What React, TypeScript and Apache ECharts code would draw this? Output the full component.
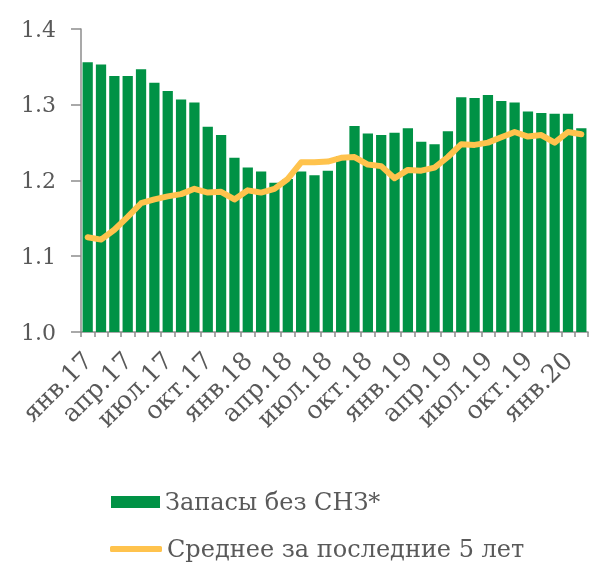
import React, { useEffect, useRef } from "react";
import * as echarts from "echarts";

const categories = [
  "янв.17","фев.17","мар.17","апр.17","май.17","июн.17","июл.17","авг.17","сен.17","окт.17","ноя.17","дек.17",
  "янв.18","фев.18","мар.18","апр.18","май.18","июн.18","июл.18","авг.18","сен.18","окт.18","ноя.18","дек.18",
  "янв.19","фев.19","мар.19","апр.19","май.19","июн.19","июл.19","авг.19","сен.19","окт.19","ноя.19","дек.19",
  "янв.20","фев.20",
];

const stocks = [
  1.356, 1.353, 1.338, 1.338, 1.347, 1.329, 1.318, 1.307, 1.303, 1.271, 1.260, 1.230,
  1.217, 1.212, 1.197, 1.202, 1.212, 1.207, 1.213, 1.232, 1.272, 1.262, 1.260, 1.263,
  1.269, 1.251, 1.248, 1.265, 1.310, 1.309, 1.313, 1.305, 1.303, 1.291, 1.289, 1.288,
  1.288, 1.269,
];

const avg5y = [
  1.125, 1.122, 1.135, 1.152, 1.170, 1.175, 1.179, 1.182, 1.189, 1.184, 1.185, 1.175,
  1.187, 1.184, 1.189, 1.202, 1.224, 1.224, 1.225, 1.230, 1.231, 1.221, 1.219, 1.203,
  1.214, 1.213, 1.217, 1.231, 1.248, 1.247, 1.250, 1.257, 1.264, 1.258, 1.260, 1.250,
  1.264, 1.261,
];

const seriesNames = ["Запасы без СНЗ*", "Среднее за последние 5 лет"];

const FONT = "DejaVu Serif";
const TEXT = "#595959";
const AXIS = "#8c8c8c";
const GREEN = "#009245";
const YELLOW = "#FFC34D";

export default function App() {
  const ref = useRef<HTMLDivElement>(null);
  useEffect(() => {
    if (!ref.current) return;
    const chart = echarts.init(ref.current, null, { renderer: "svg" });
    const legendText = { fontFamily: FONT, color: TEXT, fontSize: 24, lineHeight: 26 };
    chart.setOption({
      animation: false,
      textStyle: { fontFamily: FONT, color: TEXT },
      grid: { left: 81, right: 2, top: 29, bottom: 234, containLabel: false },
      legend: [
        {
          left: 111,
          top: 489,
          padding: 0,
          itemWidth: 49,
          itemHeight: 12,
          textStyle: legendText,
          data: [{ name: seriesNames[0], icon: "rect" }],
        },
        {
          left: 110,
          top: 536,
          padding: 0,
          itemWidth: 52,
          itemHeight: 6,
          textStyle: legendText,
          data: [{ name: seriesNames[1], icon: "roundRect" }],
        },
      ],
      xAxis: {
        type: "category",
        data: categories,
        boundaryGap: true,
        axisLine: { lineStyle: { color: AXIS, width: 1.5 } },
        axisTick: { show: true, interval: 0, length: 5, lineStyle: { color: AXIS, width: 1.5 } },
        axisLabel: {
          interval: 2,
          rotate: 45,
          margin: 24,
          fontFamily: FONT,
          fontSize: 25,
          color: TEXT,
        },
      },
      yAxis: {
        type: "value",
        min: 1.0,
        max: 1.4,
        interval: 0.1,
        splitLine: { show: false },
        axisLine: { show: true, lineStyle: { color: AXIS, width: 1.5 } },
        axisTick: { show: true, length: 10, lineStyle: { color: AXIS, width: 1.5 } },
        axisLabel: {
          margin: 25,
          fontFamily: FONT,
          fontSize: 22,
          color: TEXT,
          formatter: (v: number) => v.toFixed(1),
        },
      },
      series: [
        {
          name: seriesNames[0],
          type: "bar",
          data: stocks,
          barCategoryGap: "23%",
          itemStyle: { color: GREEN },
        },
        {
          name: seriesNames[1],
          type: "line",
          data: avg5y,
          symbol: "none",
          showSymbol: false,
          lineStyle: { color: YELLOW, width: 6, cap: "round", join: "round" },
          itemStyle: { color: YELLOW },
        },
      ],
    });
    return () => chart.dispose();
  }, []);
  return (
    <div
      ref={ref}
      style={{ position: "fixed", left: 0, top: 0, width: 590, height: 566 }}
    />
  );
}
